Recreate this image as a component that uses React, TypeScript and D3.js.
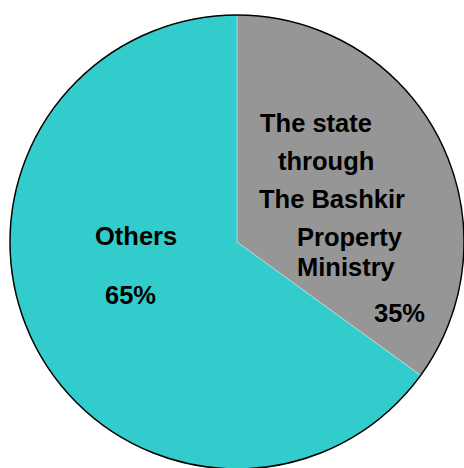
import * as d3 from "d3";

const categories = ["The state through The Bashkir Property Ministry", "Others"];
const shares = [35, 65];
const colors = ["#969696", "#33CCCC"];

// label lines per slice, offsets from pie centre
const stateLines = [
  { text: "The state", dx: 23, dy: -110 },
  { text: "through", dx: 41, dy: -72 },
  { text: "The Bashkir", dx: 22, dy: -34 },
  { text: "Property", dx: 60, dy: 4 },
  { text: "Ministry", dx: 60, dy: 34 },
  { text: "35%", dx: 137, dy: 80 },
];
const otherLines = [
  { text: "Others", dx: -142, dy: 3 },
  { text: "65%", dx: -132, dy: 62 },
];

const App = () => {
  const width = 464;
  const height = 468;
  const cx = 237;
  const cy = 242;
  const r = 227;

  const pie = d3
    .pie<number>()
    .sort(null)
    .value((d) => d);
  const arcs = pie(shares);
  const arc = d3.arc<d3.PieArcDatum<number>>().innerRadius(0).outerRadius(r);

  const labelStyle = {
    fontFamily: "'Liberation Sans', Arial, sans-serif",
    fontWeight: 700,
    fontSize: 25.5,
  };

  return (
    <svg
      width={width}
      height={height}
      style={{ position: "absolute", left: 0, top: 0, background: "#fff" }}
    >
      <g transform={`translate(${cx},${cy})`}>
        {arcs.map((a, i) => (
          <path
            key={categories[i]}
            d={arc(a) as string}
            fill={colors[i]}
            stroke="#e0e0e0"
            strokeWidth={0.5}
          />
        ))}
        <circle r={r} fill="none" stroke="#000" strokeWidth={1.5} />
        {stateLines.map((l) => (
          <text key={l.text} x={l.dx} y={l.dy} style={labelStyle} fill="#000">
            {l.text}
          </text>
        ))}
        {otherLines.map((l) => (
          <text key={l.text} x={l.dx} y={l.dy} style={labelStyle} fill="#000">
            {l.text}
          </text>
        ))}
      </g>
    </svg>
  );
};

export default App;
